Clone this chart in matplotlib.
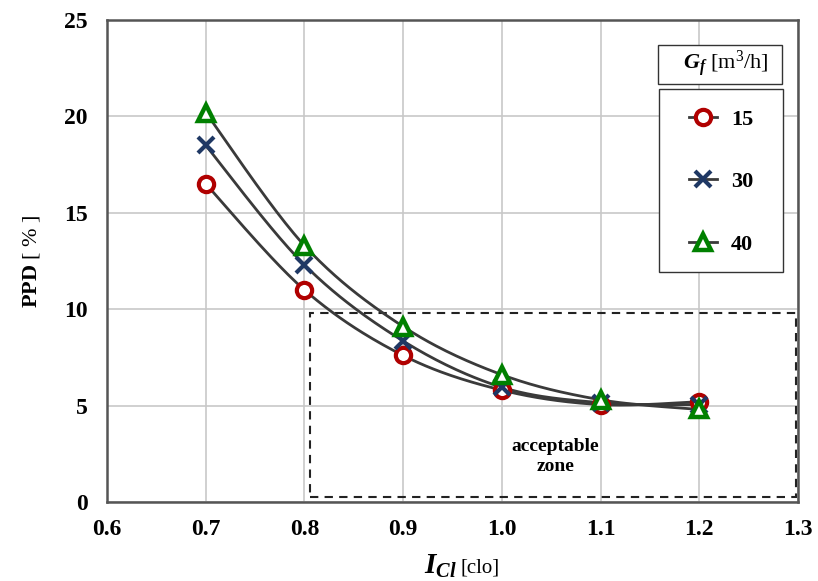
import numpy as np
import matplotlib
matplotlib.use("Agg")
import matplotlib.pyplot as plt
from matplotlib.patches import Rectangle

plt.rcParams['font.family'] = ['Liberation Serif', 'DejaVu Serif']
plt.rcParams['mathtext.fontset'] = 'custom'
plt.rcParams['mathtext.rm'] = 'Liberation Serif'
plt.rcParams['mathtext.it'] = 'Liberation Serif:italic'
plt.rcParams['mathtext.bf'] = 'Liberation Serif:bold'
plt.rcParams['mathtext.bfit'] = 'Liberation Serif:bold:italic'

clo = [0.7, 0.8, 0.9, 1.0, 1.1, 1.2]
ppd_15 = [16.5, 11.0, 7.6, 5.8, 5.05, 5.2]
ppd_30 = [18.5, 12.3, 8.35, 5.95, 5.15, 5.05]
ppd_40 = [20.2, 13.3, 9.1, 6.6, 5.3, 4.8]
labels = ['15', '30', '40']
xticks = [0.6, 0.7, 0.8, 0.9, 1.0, 1.1, 1.2, 1.3]
yticks = [0, 5, 10, 15, 20, 25]
zone_x = [0.806, 1.298]
zone_y = [0.25, 9.8]


def smooth(x, y, n=40, tension=0.5):
    x = np.asarray(x, float); y = np.asarray(y, float)
    px = np.concatenate([[x[0]], x, [x[-1]]])
    py = np.concatenate([[y[0]], y, [y[-1]]])
    xs, ys = [], []
    t = np.linspace(0, 1, n)
    for i in range(1, len(px) - 2):
        p0 = np.array([px[i - 1], py[i - 1]]); p1 = np.array([px[i], py[i]])
        p2 = np.array([px[i + 1], py[i + 1]]); p3 = np.array([px[i + 2], py[i + 2]])
        c1 = p1 + (p2 - p0) * tension / 3
        c2 = p2 - (p3 - p1) * tension / 3
        b = ((1 - t) ** 3)[:, None] * p1 + (3 * (1 - t) ** 2 * t)[:, None] * c1 \
            + (3 * (1 - t) * t ** 2)[:, None] * c2 + (t ** 3)[:, None] * p2
        xs.append(b[:, 0]); ys.append(b[:, 1])
    return np.concatenate(xs), np.concatenate(ys)


fig = plt.figure(figsize=(8.18, 5.81), dpi=100)
ax = fig.add_axes([0.1308, 0.136, 0.8447, 0.8296])

series = [ppd_15, ppd_30, ppd_40]
styles = [
    dict(marker='o', mec='#B00000', mfc='white', ms=11, mew=3),
    dict(marker='x', mec='#1F3864', mfc='#1F3864', ms=11, mew=3),
    dict(marker='^', mec='#008000', mfc='white', ms=11, mew=3.2),
]
line_col = '#3A3A3A'
handles = []
for ys, st, lab in zip(series, styles, labels):
    sx, sy = smooth(clo, ys)
    ax.plot(sx, sy, color=line_col, lw=2, zorder=3)
    ax.plot(clo, ys, ls='none', zorder=4, **st)
    h, = ax.plot([], [], color=line_col, lw=2, **st)
    handles.append(h)

ax.add_patch(Rectangle((zone_x[0], zone_y[0]), zone_x[1] - zone_x[0], zone_y[1] - zone_y[0],
                       fill=False, ls=(0, (4, 3)), lw=1.5, ec='#222222', zorder=2))
ax.text(1.054, 2.35, 'acceptable\nzone', ha='center', va='center', fontsize=14,
        fontweight='bold', linespacing=1.2)

ax.set_xlim(0.6, 1.3)
ax.set_ylim(0, 25)
ax.set_xticks(xticks)
ax.set_yticks(yticks)
ax.set_xticklabels([f'{v:.1f}' for v in xticks])
ax.set_yticklabels([str(v) for v in yticks])
ax.tick_params(axis='y', length=0, labelsize=17, pad=14)
ax.tick_params(axis='x', length=0, labelsize=17, pad=12)
for lab in ax.get_xticklabels() + ax.get_yticklabels():
    lab.set_fontweight('bold')
ax.grid(True, color='#C8C8C8', lw=1.2)
ax.set_axisbelow(True)
for s in ax.spines.values():
    s.set_color('#555555'); s.set_linewidth(1.8)

# x label: large bold-italic symbol + smaller unit
fig.text(457 / 818, 7 / 581, r'$\mathbfit{I}_{\mathbfit{Cl}}$', ha='right', va='baseline', fontsize=21)
fig.text(460 / 818, 8 / 581, '[clo]', ha='left', va='baseline', fontsize=15)
ax.set_ylabel(r'$\mathbf{PPD}$' + ' [ % ]', fontsize=16, labelpad=16)

# legend frame and title box (axes fraction)
ax.add_patch(Rectangle((0.7988, 0.4772), 0.1795, 0.3796, transform=ax.transAxes,
                       fc='white', ec='#333333', lw=1.0, zorder=5, clip_on=False))
ax.add_patch(Rectangle((0.7974, 0.8672), 0.1794, 0.0809, transform=ax.transAxes,
                       fc='white', ec='#333333', lw=1.0, zorder=5, clip_on=False))
ax.text(0.8958, 0.9087, r'$\mathbfit{G}_{\mathbfit{f}}$' + r' [m$^3$/h]', transform=ax.transAxes,
        ha='center', va='center', fontsize=16, zorder=6)

leg = ax.legend(handles, labels, loc='center', bbox_to_anchor=(0.8886, 0.664),
                frameon=False, prop=dict(size=16, weight='bold'), handlelength=1.25,
                labelspacing=1.88, borderpad=0, handletextpad=0.65, borderaxespad=0)
leg.set_zorder(7)

fig.savefig('out.png', dpi=100)
